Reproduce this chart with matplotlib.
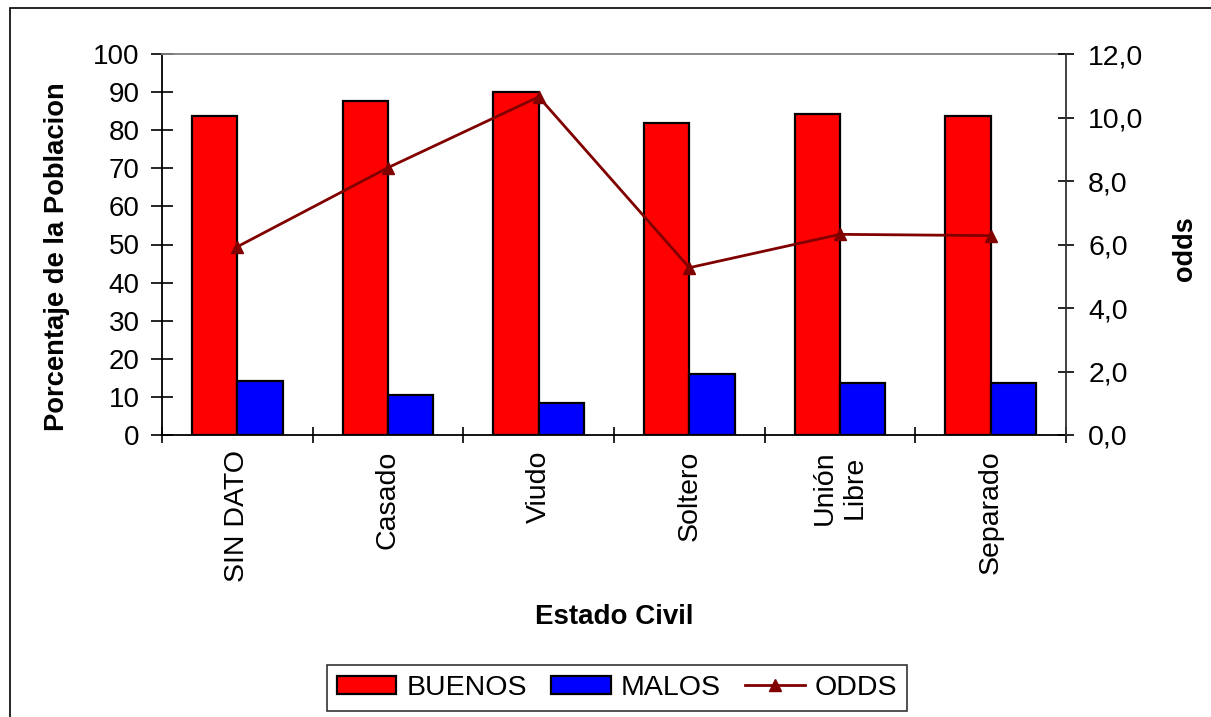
import matplotlib
matplotlib.use("Agg")
import matplotlib.pyplot as plt
import numpy as np
from matplotlib.patches import Rectangle

plt.rcParams['font.family'] = ['Liberation Sans', 'DejaVu Sans']

# Marital status categories and their population shares
categories = ["SIN DATO", "Casado", "Viudo", "Soltero", "Unión\nLibre", "Separado"]
buenos = [83.7, 87.7, 90.0, 82.0, 84.3, 83.8]
malos = [14.3, 10.4, 8.5, 15.9, 13.6, 13.6]
odds = [5.93, 8.42, 10.65, 5.27, 6.32, 6.28]

left_ticks = list(range(0, 101, 10))
right_ticks = [0, 2, 4, 6, 8, 10, 12]

W, H = 1211, 717
fig = plt.figure(figsize=(W / 100, H / 100), dpi=100)
ax = fig.add_axes([162 / W, 1 - 435 / H, (1066 - 162) / W, (435 - 54) / H])

x = np.arange(len(categories))
bw = 0.3
ax.bar(x - bw / 2, buenos, width=bw, color="#FF0000", edgecolor="black",
       linewidth=1.6, label="BUENOS", zorder=2)
ax.bar(x + bw / 2, malos, width=bw, color="#0000FF", edgecolor="black",
       linewidth=1.6, label="MALOS", zorder=2)

ax.set_xlim(-0.5, len(categories) - 0.5)
ax.set_ylim(0, 100)
ax.set_yticks(left_ticks)
ax.set_yticklabels([str(v) for v in left_ticks], fontsize=20)
ax.tick_params(axis='y', direction='inout', length=16, width=1.2, pad=8, colors='black')

ax.set_xticks(x)
ax.set_xticklabels(categories, rotation=90, fontsize=20.5, va='top', ha='center')
ax.set_xticks(np.arange(-0.5, len(categories), 1.0), minor=True)
ax.tick_params(axis='x', which='major', length=0, pad=11)
ax.tick_params(axis='x', which='minor', direction='inout', length=12, width=1.2)

for side in ('left', 'bottom'):
    ax.spines[side].set_color('black')
    ax.spines[side].set_linewidth(1.3)
ax.spines['top'].set_color('#808080')
ax.spines['top'].set_linewidth(1.3)
ax.spines['right'].set_visible(False)

ax.set_ylabel("Porcentaje de la Poblacion", fontsize=19.7, fontweight='bold')
ax.yaxis.set_label_coords(-0.102, 0.467)
ax.set_xlabel("Estado Civil", fontsize=20, fontweight='bold', labelpad=16)

ax2 = ax.twinx()
ax2.plot(x, odds, color="#800000", linewidth=2, marker='^', markersize=9,
         label="ODDS", zorder=3)
ax2.set_ylim(0, 12)
ax2.set_yticks(right_ticks)
ax2.set_yticklabels([f"{v:.1f}".replace('.', ',') for v in right_ticks], fontsize=20.5)
ax2.tick_params(axis='y', direction='inout', length=12, width=1.2, pad=10)
for side in ('left', 'top', 'bottom'):
    ax2.spines[side].set_visible(False)
ax2.spines['right'].set_color('#333333')
ax2.spines['right'].set_linewidth(1.3)
ax2.set_ylabel("odds", fontsize=19.5, fontweight='bold')
ax2.yaxis.set_label_coords(1.117, 0.49)

h1, l1 = ax.get_legend_handles_labels()
h2, l2 = ax2.get_legend_handles_labels()
leg = fig.legend(h1 + h2, l1 + l2, loc='center', bbox_to_anchor=(617 / W, 1 - 688 / H),
                 ncol=3, fontsize=20.5, frameon=True, fancybox=False,
                 handlelength=2.1, handleheight=0.6, handletextpad=0.35,
                 columnspacing=0.85, borderpad=0.35)
leg.get_frame().set_edgecolor('black')
leg.get_frame().set_linewidth(1.2)

# Outer chart border
fig.add_artist(Rectangle((10 / W, -0.1), 1.1, 1.1 - 8 / H, transform=fig.transFigure,
                         fill=False, edgecolor='black', linewidth=1.2))

fig.savefig("out.png", dpi=100)
